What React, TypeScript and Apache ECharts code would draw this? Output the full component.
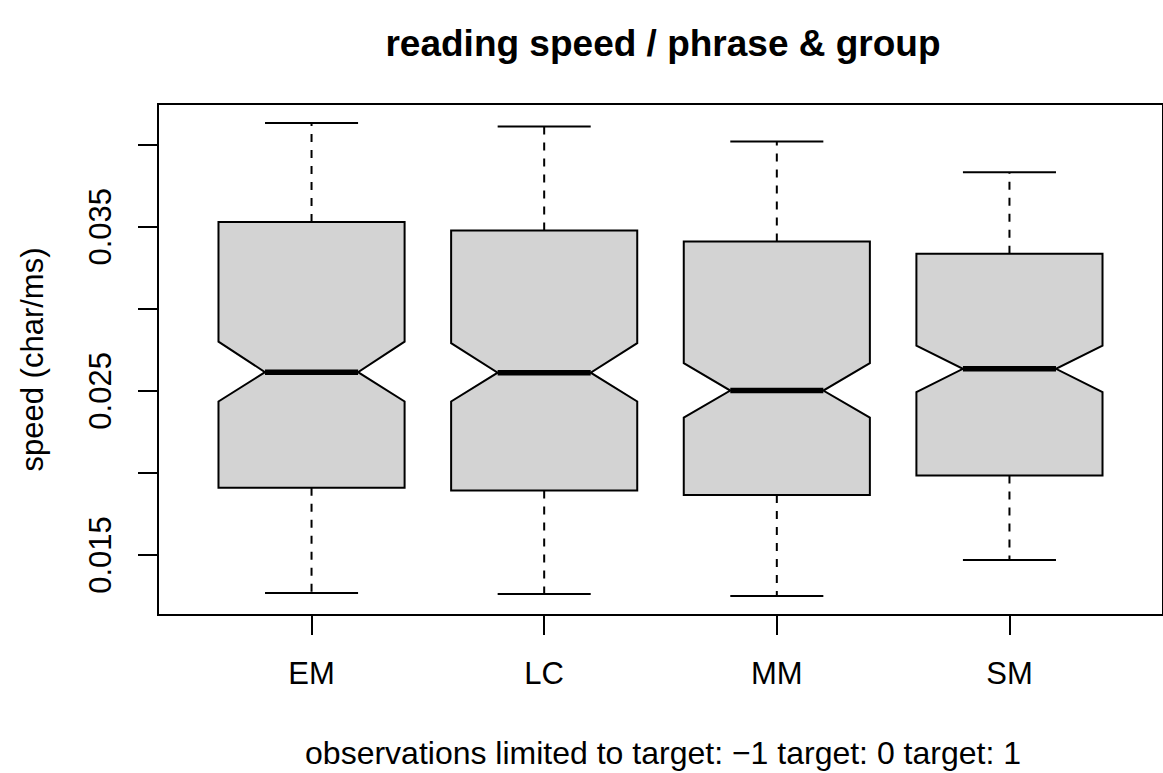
import React, { useEffect, useRef } from 'react';
import * as echarts from 'echarts';

const categories = ['EM', 'LC', 'MM', 'SM'];
const whiskerLow = [0.01268, 0.01263, 0.01251, 0.0147];
const q1 = [0.01909, 0.01893, 0.01866, 0.01984];
const notchLow = [0.02435, 0.02435, 0.02337, 0.02492];
const median = [0.02614, 0.02611, 0.02502, 0.02634];
const notchHigh = [0.028, 0.02791, 0.02669, 0.02776];
const q3 = [0.03528, 0.03477, 0.0341, 0.03335];
const whiskerHigh = [0.04131, 0.0411, 0.04019, 0.03832];
const yTicks = [0.015, 0.02, 0.025, 0.03, 0.035, 0.04];
const yLabels = [0.015, 0.025, 0.035];
const xPositions = [1, 2, 3, 4];

const FONT = '"Liberation Sans", Arial, Helvetica, sans-serif';

export default function App() {
  const ref = useRef<HTMLDivElement>(null);
  useEffect(() => {
    document.body.style.margin = '0';
    const chart = echarts.init(ref.current as HTMLDivElement, null, { renderer: 'svg' });
    const data = categories.map((c, i) => [
      xPositions[i], whiskerLow[i], q1[i], notchLow[i], median[i], notchHigh[i], q3[i], whiskerHigh[i],
    ]);
    const renderItem = (params: any, api: any) => {
      const x = api.value(0);
      const lo = api.value(1), b1 = api.value(2), nl = api.value(3), md = api.value(4), nh = api.value(5), b3 = api.value(6), hi = api.value(7);
      const c = (xx: number, v: number) => api.coord([xx, v]);
      const bw = 0.4, nw = 0.2;
      const poly = [
        c(x - bw, b3), c(x + bw, b3), c(x + bw, nh), c(x + nw, md), c(x + bw, nl), c(x + bw, b1),
        c(x - bw, b1), c(x - bw, nl), c(x - nw, md), c(x - bw, nh),
      ];
      const lineStyle = { stroke: '#000', lineWidth: 2, fill: null };
      const p = (a: number[], b: number[]) => ({ x1: a[0], y1: a[1], x2: b[0], y2: b[1] });
      return {
        type: 'group',
        children: [
          { type: 'line', shape: p(c(x, b3), c(x, hi)), style: { ...lineStyle, lineDash: [8, 8] } },
          { type: 'line', shape: p(c(x, b1), c(x, lo)), style: { ...lineStyle, lineDash: [8, 8] } },
          { type: 'line', shape: p(c(x - nw, hi), c(x + nw, hi)), style: lineStyle },
          { type: 'line', shape: p(c(x - nw, lo), c(x + nw, lo)), style: lineStyle },
          { type: 'polygon', shape: { points: poly }, style: { fill: '#D3D3D3', stroke: '#000', lineWidth: 2 } },
          { type: 'line', shape: p(c(x - nw, md), c(x + nw, md)), style: { stroke: '#000', lineWidth: 5.5 } },
        ],
      };
    };
    chart.setOption({
      animation: false,
      backgroundColor: '#fff',
      grid: {
        left: 158, top: 104, width: 1010, height: 511,
        show: true, borderColor: '#000', borderWidth: 2, backgroundColor: 'transparent',
      },
      xAxis: {
        type: 'value', min: 0.34, max: 4.66,
        splitLine: { show: false },
        axisLine: { show: false },
        axisTick: { show: true, customValues: xPositions, length: 20, lineStyle: { color: '#000', width: 2 } },
        axisLabel: {
          customValues: xPositions,
          formatter: (v: number) => categories[Math.round(v) - 1] ?? '',
          margin: 43, fontSize: 31, color: '#000', fontFamily: FONT,
        },
      },
      yAxis: {
        type: 'value', min: 0.011345, max: 0.042475,
        splitLine: { show: false },
        axisLine: { show: false },
        axisTick: { show: true, customValues: yTicks, length: 20, lineStyle: { color: '#000', width: 2 } },
        axisLabel: {
          customValues: yLabels, rotate: 90,
          formatter: (v: number) => v.toFixed(3),
          margin: 42, fontSize: 31, color: '#000', fontFamily: FONT,
        },
      },
      graphic: [
        {
          type: 'text', x: 663, y: 43,
          style: { text: 'reading speed / phrase & group', font: 'bold 37px ' + FONT, fill: '#000', align: 'center', verticalAlign: 'middle', textAlign: 'center', textVerticalAlign: 'middle' },
        },
        {
          type: 'text', x: 32, y: 359.5, rotation: Math.PI / 2,
          style: { text: 'speed (char/ms)', font: '31px ' + FONT, fill: '#000', align: 'center', verticalAlign: 'middle', textAlign: 'center', textVerticalAlign: 'middle' },
        },
        {
          type: 'text', x: 663, y: 753,
          style: { text: 'observations limited to target: \u22121 target: 0 target: 1', font: '32px ' + FONT, fill: '#000', align: 'center', verticalAlign: 'middle', textAlign: 'center', textVerticalAlign: 'middle' },
        },
      ],
      series: [{
        type: 'custom', renderItem, data, clip: false,
        encode: { x: 0, y: [1, 2, 3, 4, 5, 6, 7] },
      }],
    });
    return () => chart.dispose();
  }, []);
  return <div ref={ref} style={{ width: 1163, height: 773 }} />;
}
